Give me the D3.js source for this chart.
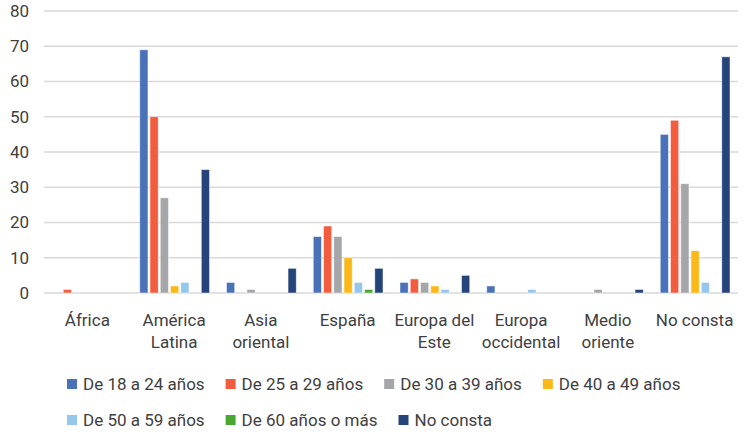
<!DOCTYPE html>
<html lang="es">
<head>
<meta charset="utf-8">
<title>Edad por origen</title>
<script src="https://d3js.org/d3.v7.min.js"></script>
<style>
    body { margin: 0; background: #fff; }
    text { font-family: Roboto, "Open Sans", sans-serif; fill: #404040; }
</style>
</head>
<body>
<svg width="744" height="435"></svg>
<script>
    // categorias (origen) y series (tramos de edad)
    var categories = ["África", "América\nLatina", "Asia\noriental", "España", "Europa del\nEste", "Europa\noccidental", "Medio\noriente", "No consta"];
    var seriesNames = ["De 18 a 24 años", "De 25 a 29 años", "De 30 a 39 años", "De 40 a 49 años", "De 50 a 59 años", "De 60 años o más", "No consta"];
    var colors = ["#4a72b8", "#f25c3f", "#a5a6a9", "#fbb917", "#95c6ec", "#4aa832", "#24447a"];

    var s18_24 = [0, 69, 3, 16, 3, 2, 0, 45];
    var s25_29 = [1, 50, 0, 19, 4, 0, 0, 49];
    var s30_39 = [0, 27, 1, 16, 3, 0, 1, 31];
    var s40_49 = [0, 2, 0, 10, 2, 0, 0, 12];
    var s50_59 = [0, 3, 0, 3, 1, 1, 0, 3];
    var s60 = [0, 0, 0, 1, 0, 0, 0, 0];
    var sNoConsta = [0, 35, 7, 7, 5, 0, 1, 67];
    var yTicks = [0, 10, 20, 30, 40, 50, 60, 70, 80];

    var series = [s18_24, s25_29, s30_39, s40_49, s50_59, s60, sNoConsta];

    var svg = d3.select("svg"),
        margin = {top: 11, right: 6, bottom: 142, left: 44},
        width = +svg.attr("width") - margin.left - margin.right,
        height = +svg.attr("height") - margin.top - margin.bottom,
        g = svg.append("g").attr("transform", "translate(" + margin.left + "," + margin.top + ")");

    var x0 = d3.scaleBand().domain(d3.range(categories.length)).range([0, width]);
    var x1 = d3.scaleBand().domain(d3.range(seriesNames.length)).range([9, x0.bandwidth() - 8]).paddingInner(0.2);
    var y = d3.scaleLinear().domain([0, 80]).range([height, 0]);

    // grid
    g.selectAll(".grid").data(yTicks).enter().append("line")
        .attr("x1", 0).attr("x2", width)
        .attr("y1", function(d) { return y(d); })
        .attr("y2", function(d) { return y(d); })
        .attr("stroke", "#d9d9d9").attr("stroke-width", 1.5);

    var yAxis = g.append("g").call(d3.axisLeft(y).tickValues(yTicks).tickSize(0).tickPadding(15));
    yAxis.select(".domain").remove();
    yAxis.selectAll("text").style("font-size", "17px").style("font-family", "Roboto, sans-serif").attr("fill", "#404040");

    // bars
    var groups = g.selectAll(".grp").data(series).enter().append("g")
        .attr("fill", function(d, i) { return colors[i]; });
    groups.selectAll("rect").data(function(d, i) { return d.map(function(v, c) { return {s: i, c: c, v: v}; }); })
        .enter().filter(function(d) { return d.v > 0; }).append("rect")
        .attr("x", function(d) { return x0(d.c) + x1(d.s); })
        .attr("width", x1.bandwidth())
        .attr("y", function(d) { return y(d.v); })
        .attr("height", function(d) { return y(0) - y(d.v); })
        .attr("stroke", "#fff").attr("stroke-width", 0.8).attr("stroke-opacity", 0.6);

    // category labels
    var xl = g.append("g").attr("transform", "translate(0," + height + ")");
    xl.selectAll("text").data(categories).enter().append("text")
        .attr("x", function(d, i) { return x0(i) + x0.bandwidth() / 2; })
        .attr("y", 33)
        .attr("text-anchor", "middle")
        .style("font-size", "17px")
        .each(function(d) {
            var t = d3.select(this);
            d.split("\n").forEach(function(line, k) {
                t.append("tspan").attr("x", t.attr("x")).attr("dy", k ? 22 : 0).text(line);
            });
        });

    // legend, flowing like the original (4 per row)
    var lx = 67, ly = 379;
    seriesNames.forEach(function(name, i) {
        if (i === 4) { lx = 67; ly += 36; }
        var item = svg.append("g").attr("transform", "translate(" + lx + "," + ly + ")");
        item.append("rect").attr("width", 10).attr("height", 10).attr("fill", colors[i]);
        var t = item.append("text").attr("x", 16).attr("y", 10.5).style("font-size", "17px").text(name);
        lx += 16 + t.node().getComputedTextLength() + 21;
    });
</script>
</body>
</html>
